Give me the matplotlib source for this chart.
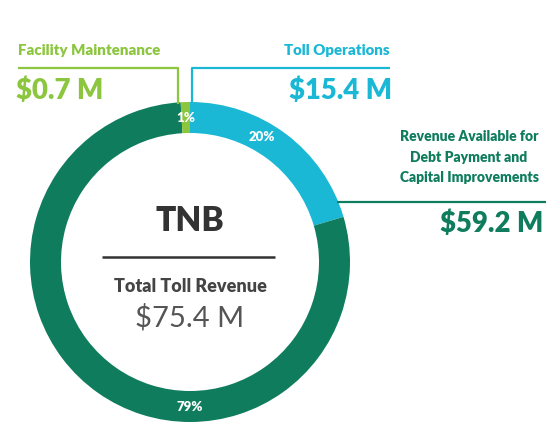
import matplotlib
matplotlib.use("Agg")
import matplotlib.pyplot as plt
import numpy as np

# Data
categories = ["Toll Operations", "Revenue Available for\nDebt Payment and\nCapital Improvements", "Facility Maintenance"]
values = [15.4, 59.2, 0.7]
pct_labels = ["20%", "79%", "1%"]
value_labels = ["$15.4 M", "$59.2 M", "$0.7 M"]
title = "TNB"
total_label = "Total Toll Revenue"
total_value = "$75.4 M"

colors = ["#1bb8d6", "#0f7d5d", "#8cc63f"]
dark_gray = "#333333"

W, H = 548, 423
fig = plt.figure(figsize=(W / 100, H / 100), dpi=100)
ax = fig.add_axes([0, 0, 1, 1])

cx, cy = 190, H - 262
R, width = 160, 31
ax.pie(values, colors=colors, startangle=90, counterclock=False,
       center=(cx, cy), radius=R,
       wedgeprops=dict(width=width, linewidth=0))
ax.set_xlim(0, W)
ax.set_ylim(0, H)
ax.set_aspect("equal")
ax.axis("off")

FONT = "Lato"
BW = "heavy"

# percent labels inside ring
label_angles = [60, -90, 91.8]
rmid = R - width / 2
for lab, ang in zip(pct_labels, label_angles):
    a = np.deg2rad(ang)
    ax.text(cx + rmid * np.cos(a), cy + rmid * np.sin(a), lab, color="white",
            fontsize=9.5, fontweight=BW, family=FONT, ha="center", va="center")

# Facility Maintenance (lime)
y = lambda v: H - v
ax.plot([18, 178, 178], [y(68), y(68), y(104)], color=colors[2], lw=1.6, solid_capstyle="butt")
ax.text(18, y(50), categories[2], color=colors[2], fontsize=10.8, fontweight=BW,
        family=FONT, ha="left", va="center")
ax.text(16, y(91), value_labels[2], color=colors[2], fontsize=19.8, fontweight=BW,
        family=FONT, ha="left", va="center")

# Toll Operations (teal)
ax.plot([192, 192, 390], [y(104), y(68), y(68)], color=colors[0], lw=1.6, solid_capstyle="butt")
ax.text(390, y(50), categories[0], color=colors[0], fontsize=10.8, fontweight=BW,
        family=FONT, ha="right", va="center")
ax.text(392, y(91), value_labels[0], color=colors[0], fontsize=19.8, fontweight=BW,
        family=FONT, ha="right", va="center")

# Revenue Available (green)
ax.plot([337, 546], [y(202), y(202)], color=colors[1], lw=1.6, solid_capstyle="butt")
ax.text(469, y(157), categories[1], color=colors[1], fontsize=10, fontweight=BW,
        family=FONT, ha="center", va="center", linespacing=1.65)
ax.text(543, y(224), value_labels[1], color=colors[1], fontsize=19.8, fontweight=BW,
        family=FONT, ha="right", va="center")

# center text
ax.text(cx, y(221), title, color=dark_gray, fontsize=24, fontweight=BW,
        family=FONT, ha="center", va="center")
ax.plot([102, 275], [y(257), y(257)], color=dark_gray, lw=1.8, solid_capstyle="butt")
ax.text(cx, y(286), total_label, color="#444444", fontsize=13, fontweight=BW,
        family=FONT, ha="center", va="center")
ax.text(cx, y(318), total_value, color="#555555", fontsize=21,
        family=FONT, ha="center", va="center")

fig.savefig("out.png", dpi=100, facecolor="white")
